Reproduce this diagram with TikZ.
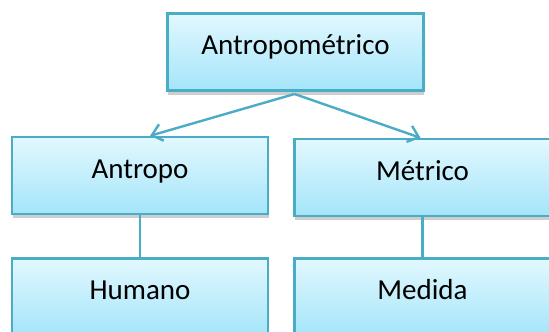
\documentclass[tikz,border=0pt]{standalone}
\usepackage{fontspec}
\setmainfont{Carlito}
\usepackage{tikz}
\usetikzlibrary{shadows,arrows.meta}
\definecolor{boxline}{HTML}{4BACC6}
\definecolor{boxtop}{HTML}{E2F8FE}
\definecolor{boxbot}{HTML}{A4E5FA}

\tikzset{
  termbox/.style={draw=boxline,line width=2.4pt,top color=boxtop,bottom color=boxbot,
    minimum width=256pt,minimum height=77pt,text height=21pt,text depth=16pt,
    font=\fontsize{29}{32}\selectfont,
    drop shadow={shadow xshift=0.5pt,shadow yshift=-4pt,opacity=0.35,fill=black!55}},
  link/.style={draw=boxline,line width=2.4pt},
  tolink/.style={link,-{Straight Barb[length=10pt,width=17pt]}},
}

\begin{document}
\begin{tikzpicture}[x=1pt,y=-1pt]
    \useasboundingbox (0,0) rectangle (549,332);
    \clip (0,0) rectangle (549,332);
    \node[termbox] (raiz) at (295.5,52) {Antropométrico};
    \node[termbox] (antropo) at (140,175.5) {Antropo};
    \node[termbox] (metrico) at (422.5,177.5) {Métrico};
    \node[termbox] (humano) at (140,297) {Humano};
    \node[termbox] (medida) at (422.5,297) {Medida};
    % split point just under the top box
    \coordinate (split) at (294.5,94);
    \draw[tolink] (split) -- ([xshift=10pt]antropo.north);
    \draw[tolink] (split) -- ([xshift=-2pt]metrico.north);
    \draw[link] (antropo.south) -- (humano.north);
    \draw[link] (metrico.south) -- (medida.north);
  \end{tikzpicture}
\end{document}
